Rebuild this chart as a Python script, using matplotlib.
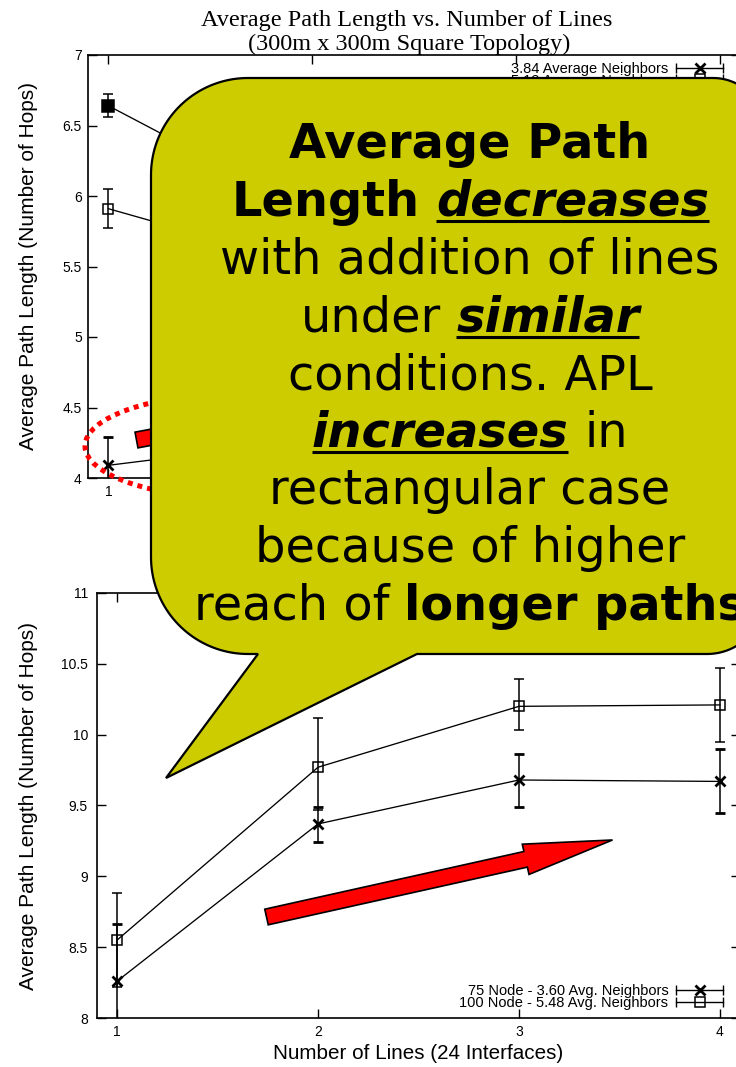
import numpy as np
import matplotlib
matplotlib.use('Agg')
import matplotlib.pyplot as plt
import matplotlib.patches as mpatches
from matplotlib.lines import Line2D
from matplotlib.legend_handler import HandlerBase
from matplotlib.ticker import FormatStrFormatter

W, H = 736, 1067
SANS = 'Liberation Sans'
plt.rcParams['font.family'] = [SANS, 'DejaVu Sans']

lines = [1, 2, 3, 4]

# 300m x 300m square topology: mean path length and error half-width
sq_names = ['3.84 Average Neighbors', '5.12 Average Neighbors', '6.40 Average Neighbors']
sq_a = [4.09, 4.27, 4.33, 4.38]
sq_a_err = [0.20, 0.15, 0.14, 0.14]
sq_b = [5.91, 5.50, 5.30, 5.20]
sq_b_err = [0.14, 0.10, 0.09, 0.09]
sq_c = [6.64, 5.88, 5.55, 5.40]
sq_c_err = [0.08, 0.07, 0.06, 0.06]

# rectangular topology: mean, lower and upper error bounds
rect_names = ['75 Node - 3.60 Avg. Neighbors', '100 Node - 5.48 Avg. Neighbors']
rect75 = [8.26, 9.37, 9.68, 9.67]
rect75_lo = [7.86, 9.24, 9.49, 9.45]
rect75_hi = [8.66, 9.49, 9.86, 9.90]
rect100 = [8.55, 9.77, 10.20, 10.21]
rect100_lo = [8.22, 9.47, 10.03, 9.95]
rect100_hi = [8.88, 10.12, 10.39, 10.47]


class GnuKey(HandlerBase):
    # gnuplot style key: horizontal bar with end caps and the point in the middle
    def create_artists(self, legend, orig, xd, yd, w, h, fs, trans):
        y = h / 2 - yd
        x0, x1 = -xd, w - xd
        bar = Line2D([x0, x1], [y, y], color='k', lw=1.0)
        caps = Line2D([x0, x1], [y, y], ls='none', marker='|', ms=7, mew=1.0, color='k')
        pt = Line2D([(x0 + x1) / 2], [y], ls='none', marker=orig.get_marker(),
                    ms=orig.get_markersize(), mfc=orig.get_markerfacecolor(),
                    mec='k', mew=orig.get_markeredgewidth())
        for a in (bar, caps, pt):
            a.set_transform(trans)
        return [bar, caps, pt]


def px_axes(fig, l, t, r, b):
    return fig.add_axes([l / W, 1 - b / H, (r - l) / W, (b - t) / H])


def style(ax, ylo, yhi, ypad):
    ax.set_xlim(0.9, 4.1)
    ax.set_ylim(ylo, yhi)
    ax.set_xticks(lines)
    ax.set_yticks(np.arange(ylo, yhi + 0.01, 0.5))
    ax.yaxis.set_major_formatter(FormatStrFormatter('%g'))
    ax.tick_params(direction='in', length=6.5, width=1.0, top=True, right=True,
                   labelsize=10)
    ax.tick_params(axis='y', pad=ypad)
    ax.tick_params(axis='x', pad=5)
    for s in ax.spines.values():
        s.set_linewidth(1.2)


def series(ax, y, yerr, marker, ms, mfc, mew, label):
    c = ax.errorbar(lines, y, yerr=yerr, color='k', lw=0.95, elinewidth=1.1,
                    capsize=3.5, capthick=1.1, marker=marker, ms=ms, mfc=mfc,
                    mec='k', mew=mew, label=label)
    return c[0]


def key(ax, handles, names, loc, anchor):
    ax.legend(handles, names, handler_map={Line2D: GnuKey()}, loc=loc,
              bbox_to_anchor=anchor, frameon=False, markerfirst=False,
              prop={'family': SANS, 'size': 10.5}, handlelength=3.2,
              handletextpad=0.55, labelspacing=-0.17, borderpad=0, borderaxespad=0)


fig = plt.figure(figsize=(W / 100, H / 100), dpi=100)

# ---- square topology ----
ax1 = px_axes(fig, 88, 55, 740.4, 478)
style(ax1, 4, 7, 4.5)
h1 = [series(ax1, sq_a, sq_a_err, 'x', 7, 'k', 2.0, sq_names[0]),
      series(ax1, sq_b, sq_b_err, 's', 7.5, 'none', 1.1, sq_names[1]),
      series(ax1, sq_c, sq_c_err, 's', 8, 'k', 1.1, sq_names[2])]
key(ax1, h1, sq_names, 'upper right', ((723 - 88) / 652.4, (478 - 62) / 423))
ax1.set_ylabel('Average Path Length (Number of Hops)', fontsize=15)
ax1.yaxis.set_label_coords((38 - 88) / 652.4, 0.5)
ax1.set_xlabel('Number of Lines (24 Interfaces)', fontsize=14.9)
ax1.xaxis.set_label_coords(0.5, -0.065)

fig.text(407 / W, 1 - 26 / H, 'Average Path Length vs. Number of Lines',
         family='Liberation Serif', fontsize=17.5, ha='center', va='baseline')
fig.text(409 / W, 1 - 50 / H, '(300m x 300m Square Topology)',
         family='Liberation Serif', fontsize=17.5, ha='center', va='baseline')

# ---- rectangular topology ----
ax2 = px_axes(fig, 97, 593, 740, 1018)
style(ax2, 8, 11, 6.5)
e75 = [np.subtract(rect75, rect75_lo), np.subtract(rect75_hi, rect75)]
e100 = [np.subtract(rect100, rect100_lo), np.subtract(rect100_hi, rect100)]
h2 = [series(ax2, rect75, e75, 'x', 7, 'k', 2.0, rect_names[0]),
      series(ax2, rect100, e100, 's', 7, 'none', 1.1, rect_names[1])]
key(ax2, h2, rect_names, 'lower right', ((723 - 97) / 643, (1018 - 1010) / 425))
ax2.set_ylabel('Average Path Length (Number of Hops)', fontsize=15)
ax2.yaxis.set_label_coords((38 - 97) / 643, 0.5)
ax2.set_xlabel('Number of Lines (24 Interfaces)', fontsize=14.9)
ax2.xaxis.set_label_coords(0.5, (1018 - 1044) / 425)

# ---- callout layer, in pixel units ----
ov = fig.add_axes([0, 0, 1, 1], zorder=10)
ov.set_xlim(0, W)
ov.set_ylim(H, 0)
ov.set_facecolor('none')
ov.axis('off')

ov.add_patch(mpatches.Ellipse((235, 446), 300, 104, fill=False, ec='red', lw=3.6,
                              ls=(0, (1, 1)), zorder=1))


def arrow(x, y, ang, length, **kw):
    a = np.radians(ang)
    ov.add_patch(mpatches.FancyArrow(x, y, length * np.cos(a), -length * np.sin(a),
                                     length_includes_head=True, fc='red', ec='k',
                                     lw=1.2, zorder=1, **kw))


arrow(136.5, 440, 10.6, 300, width=16, head_width=34, head_length=60)
arrow(266.5, 917, 12.55, 354.5, width=16, head_width=31, head_length=89)


def arc(cx, cy, r, a0, a1, n=40):
    t = np.radians(np.linspace(a0, a1, n))
    return np.column_stack([cx + r * np.cos(t), cy + r * np.sin(t)])


L, T, R, B = 151, 78, 765, 654
bubble = np.vstack([
    arc(L + 97, T + 97, 97, 180, 270),
    arc(R - 52, T + 52, 52, 270, 360),
    arc(R - 58, B - 58, 58, 0, 90),
    [[417, B], [166, 778], [258, B]],
    arc(L + 97, B - 97, 97, 90, 180),
])
ov.add_patch(mpatches.Polygon(bubble, closed=True, fc='#cccc00', ec='k', lw=1.6,
                              joinstyle='miter', zorder=2))

FS = 34.5
CX = 470
rows = [
    [('Average Path', 'b')],
    [('Length', 'b'), ('decreases', 'bi')],
    [('with addition of lines', 'n')],
    [('under', 'n'), ('similar', 'bi')],
    [('conditions. APL', 'n')],
    [('increases', 'bi'), ('in', 'n')],
    [('rectangular case', 'n')],
    [('because of higher', 'n')],
    [('reach of', 'n'), ('longer paths', 'b')],
]
fonts = {'n': ('normal', 'normal'), 'b': ('bold', 'normal'), 'bi': ('bold', 'italic')}

rend = fig.canvas.get_renderer()


def make(s, kind, x=0, y=0):
    wt, st = fonts[kind]
    return ov.text(x, y, s, fontsize=FS, fontweight=wt, fontstyle=st,
                   family='DejaVu Sans', ha='left', va='baseline', zorder=3)


def width(s, kind):
    t = make(s, kind)
    w = t.get_window_extent(rend).width
    t.remove()
    return w


for i, row in enumerate(rows):
    base = 158 + 57.75 * i
    ws = [width(s, k) for s, k in row]
    gaps = [width('n n', k) - width('nn', k) for s, k in row[:-1]]
    x = CX - (sum(ws) + sum(gaps)) / 2
    for j, ((s, k), w) in enumerate(zip(row, ws)):
        make(s, k, x, base)
        if k == 'bi':
            ov.plot([x, x + w], [base + 5.5, base + 5.5], color='k', lw=2.2,
                    solid_capstyle='butt', zorder=3)
        x += w + (gaps[j] if j < len(gaps) else 0)

fig.savefig('out.png', dpi=100)
